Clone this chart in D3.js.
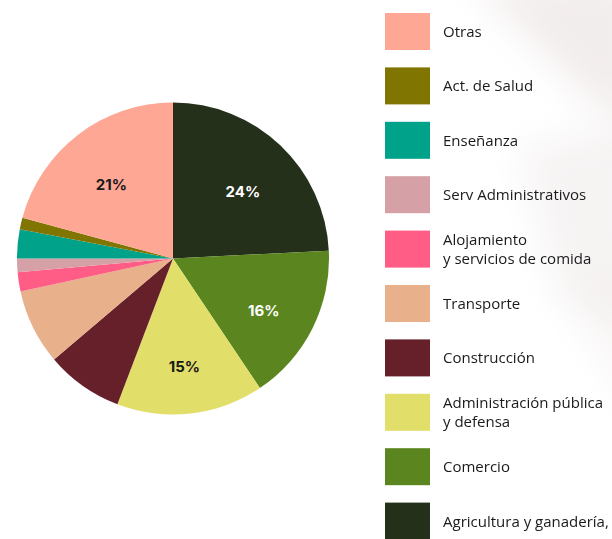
<!DOCTYPE html>
<html><head><meta charset="utf-8">
<script src="https://cdn.jsdelivr.net/npm/d3@7"></script>
<style>html,body{margin:0;padding:0;background:#fff;overflow:hidden}</style>
</head><body>
<svg id="chart" width="612" height="539"></svg>
<script>
// Data (clockwise from 12 o'clock)
const categories = ["Agricultura y ganadería,", "Comercio", "Administración pública\ny defensa", "Construcción", "Transporte", "Alojamiento\ny servicios de comida", "Serv Administrativos", "Enseñanza", "Act. de Salud", "Otras"];
const values = [24.2, 16.4, 15.2, 8.0, 7.8, 2.0, 1.4, 3.0, 1.2, 20.8];
const colors = ["#25301b", "#5b861f", "#e2de6a", "#65202a", "#e8b08b", "#ff5d86", "#d5a0a6", "#00a28a", "#807500", "#fea794"];
const labelColors = ["#ffffff", "#ffffff", "#1a1a1a", "#ffffff", "#1a1a1a", "#1a1a1a", "#1a1a1a", "#ffffff", "#ffffff", "#1a1a1a"];
// Legend order (top to bottom)
const legendOrder = ["Otras", "Act. de Salud", "Enseñanza", "Serv Administrativos", "Alojamiento\ny servicios de comida", "Transporte", "Construcción", "Administración pública\ny defensa", "Comercio", "Agricultura y ganadería,"];

const svg = d3.select("#chart");
const defs = svg.append("defs");
const blur = defs.append("filter").attr("id","soft").attr("x","-50%").attr("y","-50%").attr("width","200%").attr("height","200%");
blur.append("feGaussianBlur").attr("stdDeviation", 18);

// faint background washes
const bg = svg.append("g").attr("filter","url(#soft)");
bg.append("path").attr("d","M470,-20 L640,-20 L640,120 L600,110 Z").attr("fill","#efe9e9").attr("opacity",0.8);
bg.append("path").attr("d","M520,150 L640,120 L640,330 L560,300 Z").attr("fill","#f2eeee").attr("opacity",0.7);
bg.append("path").attr("d","M560,280 L640,260 L640,420 Z").attr("fill","#f3efef").attr("opacity",0.6);

const data = categories.map((c,i)=>({cat:c, value:values[i], color:colors[i], lc:labelColors[i]}));
const cx = 173, cy = 258.5, r = 156;
const pie = d3.pie().value(d=>d.value).sort(null);
const arc = d3.arc().innerRadius(0).outerRadius(r);
const labelArc = d3.arc().innerRadius(r*0.65).outerRadius(r*0.65);
const total = d3.sum(values);

const g = svg.append("g").attr("transform",`translate(${cx},${cy})`);
const arcs = pie(data);
g.selectAll("path.slice").data(arcs).join("path")
  .attr("class","slice")
  .attr("d", arc)
  .attr("fill", d=>d.data.color);

g.selectAll("text.pct").data(arcs.filter(d=>d.data.value/total>0.1)).join("text")
  .attr("class","pct")
  .attr("transform", d=>{ const [x,y] = labelArc.centroid(d); return `translate(${x},${y+7})`; })
  .attr("text-anchor","middle")
  .attr("dy","0.35em")
  .attr("font-family","Inter, 'Open Sans', sans-serif")
  .attr("font-weight","700")
  .attr("font-size","15px")
  .attr("fill", d=>d.data.lc)
  .text(d=>Math.round(d.data.value/total*100)+"%");

// Legend
const colorOf = c => colors[categories.indexOf(c)];
const ly = d3.scaleBand().domain(legendOrder).range([13, 13 + 54.4*legendOrder.length]).paddingInner(0);
const leg = svg.append("g");
const items = leg.selectAll("g").data(legendOrder).join("g")
  .attr("transform", d=>`translate(385,${ly(d)})`);
items.append("rect").attr("width",45).attr("height",37).attr("fill", d=>colorOf(d));
items.each(function(d){
  const lines = d.split("\n");
  const t = d3.select(this).append("text")
    .attr("font-family","'Open Sans', sans-serif")
    .attr("font-size","15px")
    .attr("fill","#1a1a1a");
  const base = lines.length===1 ? 24 : 14.5;
  lines.forEach((ln,i)=>{
    t.append("tspan").attr("x",58).attr("y", base + i*18.5).text(ln);
  });
});
</script>
</body></html>
